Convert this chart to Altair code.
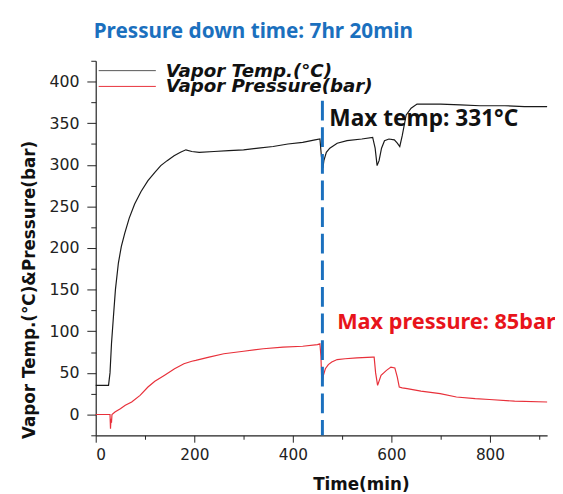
import altair as alt
import pandas as pd

# ---- data ----
temp_time = [0, 10, 20, 26, 29, 32, 36, 40, 46, 52, 59, 68, 79, 92, 106, 120, 132, 145, 159, 172,
             183, 195, 210, 240, 270, 300, 330, 360, 390, 420, 445, 455, 458, 461, 463, 468, 475,
             490, 510, 540, 562, 567, 571, 575, 580, 586, 595, 606, 612, 617, 622, 630, 640, 652,
             670, 700, 740, 780, 830, 870, 916]
temp_vals = [35, 35, 35, 35, 50, 85, 118, 150, 182, 202, 218, 236, 253, 268, 281, 291, 299, 305, 311, 315,
             318, 316, 315, 316, 317, 318, 320, 322, 325, 327, 330, 331, 310, 296, 305, 315, 320,
             326, 329, 331, 333, 320, 299, 305, 320, 329, 331, 330, 326, 322, 335, 360, 368, 373,
             373, 373, 372, 371, 371, 370, 370]

pres_time = [0, 10, 20, 29, 30, 31, 32, 33, 39, 50, 60, 73, 90, 106, 120, 139, 160, 179, 195, 203,
             230, 260, 300, 340, 380, 420, 450, 455, 457, 459, 462, 466, 472, 479, 490, 506, 530,
             562, 565, 568, 572, 579, 590, 599, 607, 612, 616, 622, 632, 660, 699, 732, 770, 799,
             850, 916]
pres_vals = [0, 0, 0, 0, -17, -5, -10, 0, 3, 7, 11, 15, 23, 33, 40, 47, 55, 61, 64, 65,
             69, 73, 76, 79, 81, 82, 84, 85, 70, 35, 47, 55, 60, 63, 66, 67, 68,
             69, 69, 50, 35, 47, 53, 57, 56, 45, 33, 32, 31, 28, 25, 21, 19, 18,
             16, 15]

series_names = ["Vapor Temp.(°C)", "Vapor Pressure(bar)"]
series_colors = ["#1a1a1a", "#e8303a"]

x_major = [0, 200, 400, 600, 800]
x_minor = [100, 300, 500, 700, 900]
y_major = [0, 50, 100, 150, 200, 250, 300, 350, 400]
y_minor = [-25, 25, 75, 125, 175, 225, 275, 325, 375, 425]

down_time = [460]
marker_top = [377]
marker_bottom = [-25]

annot_text = ["Max temp: 331°C", "Max pressure: 85bar"]
annot_x = [474, 490]
annot_y = [355, 111]

chart_title = "Pressure down time: 7hr 20min"
x_title = "Time(min)"
y_title = "Vapor Temp.(°C)&Pressure(bar)"

# ---- tables ----
df = pd.concat([
    pd.DataFrame({"time": temp_time, "value": temp_vals, "series": series_names[0]}),
    pd.DataFrame({"time": pres_time, "value": pres_vals, "series": series_names[1]}),
])
rule_df = pd.DataFrame({"time": down_time, "value": marker_top, "value2": marker_bottom})
ann_df = pd.DataFrame({"text": annot_text, "time": annot_x, "value": annot_y})

BLUE = "#1b70be"
x_scale = alt.Scale(domain=[0, 916], nice=False, zero=False)
y_scale = alt.Scale(domain=[-25, 425], nice=False, zero=False)

x_enc = alt.X("time:Q", scale=x_scale,
              axis=alt.Axis(values=x_major, format="d", labelOverlap=False, labelPadding=6, tickSize=7,
                            labelFontSize=15.5, title=x_title, titleX=269, titlePadding=14))
y_enc = alt.Y("value:Q", scale=y_scale,
              axis=alt.Axis(values=y_major, format="d", labelOverlap=False, labelPadding=8, tickSize=9,
                            labelFontSize=16, title=y_title, titleY=232, titlePadding=11,
                            titleFontSize=17))
x_plain = alt.X("time:Q")
y_plain = alt.Y("value:Q")

lines = alt.Chart(df).mark_line(strokeWidth=1.2).encode(
    x=x_enc, y=y_enc,
    color=alt.Color("series:N", scale=alt.Scale(domain=series_names, range=series_colors), legend=None),
)

rule = alt.Chart(rule_df).mark_rule(strokeDash=[20, 7], strokeWidth=3, color=BLUE).encode(
    x=x_plain, y=y_plain, y2="value2:Q"
)

ann_temp = alt.Chart(ann_df.iloc[[0]]).mark_text(
    align="left", baseline="middle", font="Noto Sans", fontWeight="bold", fontSize=23, color="#111111"
).encode(x=x_plain, y=y_plain, text="text:N")
ann_pres = alt.Chart(ann_df.iloc[[1]]).mark_text(
    align="left", baseline="middle", font="Noto Sans", fontWeight="bold", fontSize=22, color="#e8141b"
).encode(x=x_plain, y=y_plain, text="text:N")

main = alt.layer(lines, rule, ann_temp, ann_pres)

# minor ticks: an invisible layer carrying its own short-tick axes on the same scales
minor = alt.Chart(df).mark_point(opacity=0).encode(
    x=alt.X("time:Q", scale=x_scale,
            axis=alt.Axis(values=x_minor, labels=False, domain=False, tickSize=4, title=None, orient="bottom")),
    y=alt.Y("value:Q", scale=y_scale,
            axis=alt.Axis(values=y_minor, labels=False, domain=False, tickSize=5, title=None, orient="left")),
)

# manual legend
leg_layers = []
for i, (name, col) in enumerate(zip(series_names, series_colors)):
    yy = 10 + 16 * i
    leg_df = pd.DataFrame({"series": [name]})
    leg_layers.append(alt.Chart(leg_df).mark_rule(strokeWidth=1, color="#555555" if i == 0 else col).encode(
        x=alt.value(3), x2=alt.value(61), y=alt.value(yy)))
    leg_layers.append(alt.Chart(leg_df).mark_text(
        align="left", baseline="middle", font="DejaVu Sans", fontStyle="italic", fontWeight="bold",
        fontSize=18.5, color="#111111").encode(x=alt.value(71), y=alt.value(yy), text="series:N"))

chart = alt.layer(main, minor, *leg_layers).resolve_axis(x="independent", y="independent").properties(
    width=458, height=380,
    title=alt.TitleParams(text=chart_title, anchor="start", frame="group", dx=-2, offset=2,
                          baseline="alphabetic", color=BLUE, font="Noto Sans", fontSize=21,
                          fontWeight="bold"),
    autosize=alt.AutoSizeParams(type="none"),
    padding={"left": 89, "top": 50, "right": 8, "bottom": 56},
).configure_view(stroke=None).configure_axis(
    grid=False, domainColor="#222222", tickColor="#222222", domainWidth=1.2,
    labelFont="DejaVu Sans", labelFontSize=15, labelColor="#222222",
    titleFont="DejaVu Sans", titleFontWeight="bold", titleFontSize=17, titleColor="#111111",
)

chart.save("out.html", embed_options={"renderer": "svg", "actions": False})
